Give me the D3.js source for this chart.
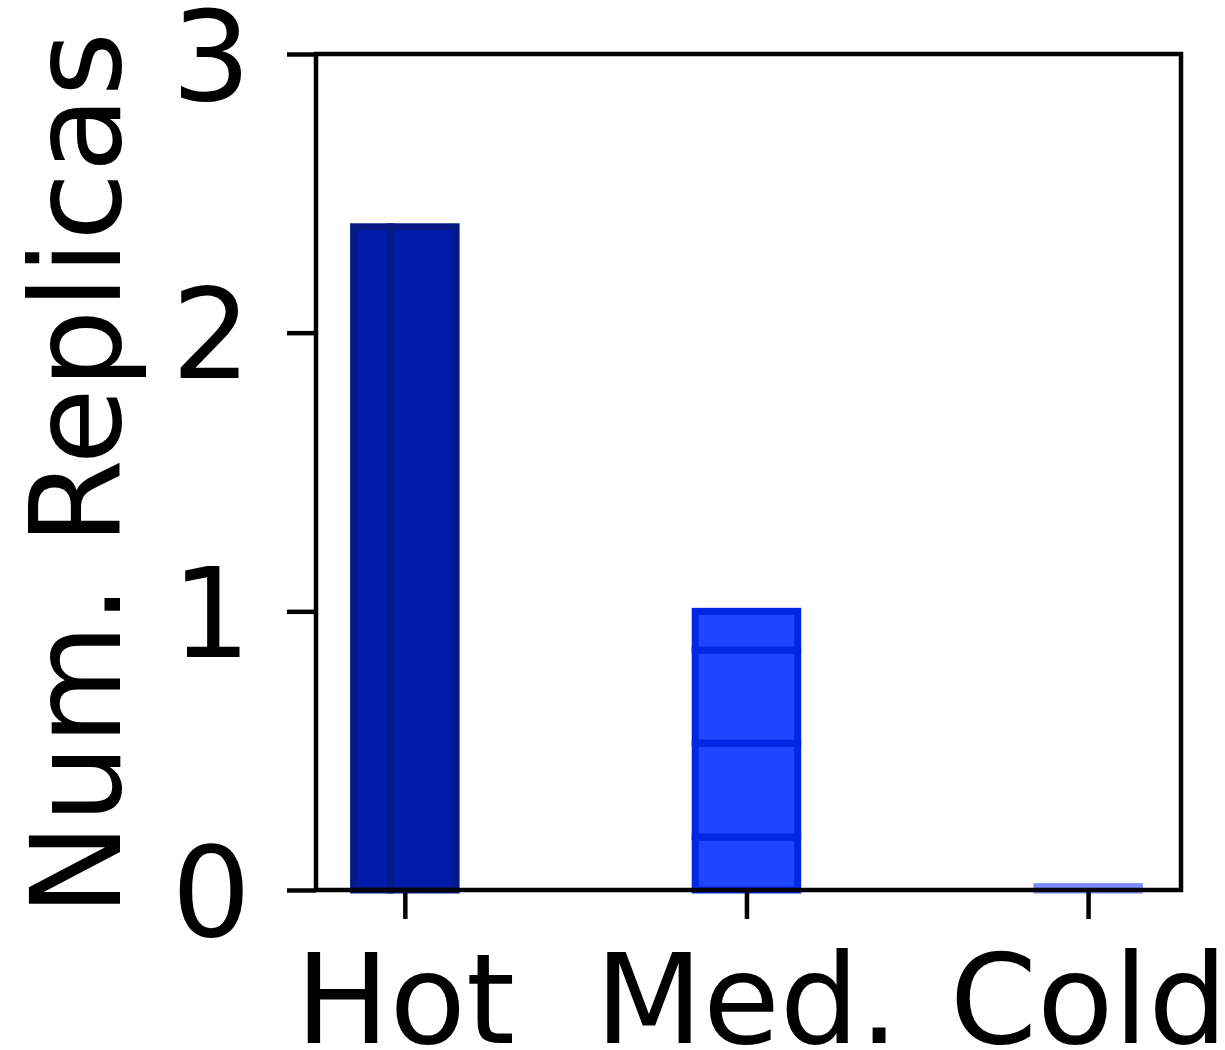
<!DOCTYPE html>
<html>
<head>
<meta charset="utf-8">
<script src="https://cdn.jsdelivr.net/npm/d3@7"></script>
<style>
  body { margin: 0; background: #fff; }
</style>
</head>
<body>
<div id="chart-area"></div>
<script>
// data
const categories = ["Hot", "Med.", "Cold"];
const yTicks = [0, 1, 2, 3];
const hotValue = 2.38;
const hotSlices = [0.36, 0.64];           // side-by-side pieces of the Hot bar (share of width)
const medSegments = [0.19, 0.337, 0.334, 0.139]; // stacked pieces of the Med. bar
const coldValue = 0.012;
const fillColors = ["#001aab", "#2045ff", "#7a8bff"];
const edgeColors = ["#071a84", "#0028e4", "#7a8bff"];

const svgWidth = 1225, svgHeight = 1050;
const margins = { top: 54, bottom: 160, left: 316, right: 44 };
const barWidth = 0.3;
const edgeWidth = 7;
const font = "DejaVu Sans";

const canvas = d3.select("#chart-area")
  .append("svg")
    .attr("width", svgWidth)
    .attr("height", svgHeight);

const x = d3.scaleLinear()
  .domain([-0.26, 2.272])
  .range([margins.left, svgWidth - margins.right]);

const y = d3.scaleLinear()
  .domain([0, 3])
  .range([svgHeight - margins.bottom, margins.top]);

const bars = canvas.append("g");

// Hot: two slices next to each other
let acc = 0;
hotSlices.forEach(s => {
  const x0 = x(0 - barWidth / 2 + acc * barWidth);
  const x1 = x(0 - barWidth / 2 + (acc + s) * barWidth);
  bars.append("rect")
    .attr("x", x0).attr("y", y(hotValue))
    .attr("width", x1 - x0).attr("height", y(0) - y(hotValue))
    .attr("fill", fillColors[0])
    .attr("stroke", edgeColors[0])
    .attr("stroke-width", edgeWidth);
  acc += s;
});

// Med.: stacked segments
let base = 0;
medSegments.forEach(v => {
  bars.append("rect")
    .attr("x", x(1 - barWidth / 2)).attr("y", y(base + v))
    .attr("width", x(1 + barWidth / 2) - x(1 - barWidth / 2))
    .attr("height", y(base) - y(base + v))
    .attr("fill", fillColors[1])
    .attr("stroke", edgeColors[1])
    .attr("stroke-width", edgeWidth);
  base += v;
});

// Cold
bars.append("rect")
  .attr("x", x(2 - barWidth / 2)).attr("y", y(coldValue))
  .attr("width", x(2 + barWidth / 2) - x(2 - barWidth / 2))
  .attr("height", y(0) - y(coldValue))
  .attr("fill", fillColors[2])
  .attr("stroke", edgeColors[2])
  .attr("stroke-width", edgeWidth);

// frame
canvas.append("rect")
  .attr("x", x.range()[0]).attr("y", y.range()[1])
  .attr("width", x.range()[1] - x.range()[0])
  .attr("height", y.range()[0] - y.range()[1])
  .attr("fill", "none")
  .attr("stroke", "#000")
  .attr("stroke-width", 4.5);

// axes
const xAxis = canvas.append("g")
  .attr("transform", `translate(0,${y(0)})`)
  .call(d3.axisBottom(x)
    .tickValues([0, 1, 2])
    .tickFormat((d, i) => categories[i])
    .tickSize(29)
    .tickPadding(35));
const yAxis = canvas.append("g")
  .attr("transform", `translate(${x.range()[0]},0)`)
  .call(d3.axisLeft(y)
    .tickValues(yTicks)
    .tickFormat(d3.format("d"))
    .tickSize(29)
    .tickPadding(36));

[xAxis, yAxis].forEach(ax => {
  ax.select(".domain").remove();
  ax.selectAll("line")
    .attr("stroke", "#000")
    .attr("stroke-width", 4.5);
  ax.selectAll("text")
    .attr("fill", "#000")
    .attr("font-family", font)
    .attr("font-size", 125);
});
yAxis.selectAll("text").attr("dy", "0.36em");

// Y label
canvas.append("text")
  .text("Num. Replicas")
  .attr("transform", `translate(120,${(y.range()[0] + y.range()[1]) / 2 + 2}) rotate(-90)`)
  .attr("text-anchor", "middle")
  .attr("font-family", font)
  .attr("font-size", 124)
  .attr("fill", "#000");
</script>
</body>
</html>
